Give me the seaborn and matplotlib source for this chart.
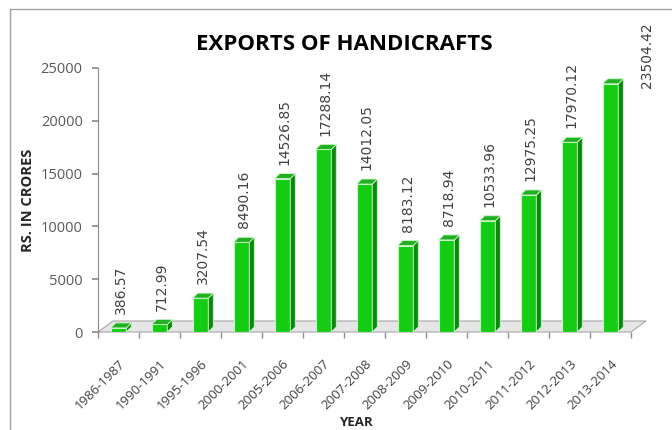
import matplotlib
matplotlib.use('Agg')
import matplotlib.pyplot as plt
from matplotlib.patches import Polygon
from matplotlib.lines import Line2D
import pandas as pd
import seaborn as sns

# data
years = ['1986-1987', '1990-1991', '1995-1996', '2000-2001', '2005-2006',
         '2006-2007', '2007-2008', '2008-2009', '2009-2010', '2010-2011',
         '2011-2012', '2012-2013', '2013-2014']
exports = [386.57, 712.99, 3207.54, 8490.16, 14526.85, 17288.14, 14012.05,
           8183.12, 8718.94, 10533.96, 12975.25, 17970.12, 23504.42]
y_ticks = [0, 5000, 10000, 15000, 20000, 25000]

df = pd.DataFrame({'year': years, 'value': exports})

sns.set_theme(style='white')
plt.rcParams['font.family'] = ['Open Sans', 'DejaVu Sans']

fig = plt.figure(figsize=(6.72, 4.30), dpi=100)
ax = fig.add_axes([98/672, 1 - 332/430, 533/672, 264/430])

sns.barplot(data=df, x='year', y='value', ax=ax, color='#14cc14',
            width=0.38, edgecolor='#c8f5c8', linewidth=0.8, saturation=1, zorder=3)

ax.set_xlim(-0.5, 12.5)
ax.set_ylim(0, 25000)

# pixel -> data scale for the fake 3d depth
fig.canvas.draw()
px_x = 13 / ax.bbox.width
px_y = 25000 / ax.bbox.height

# floor
fdx, fdy = 15 * px_x, 11 * px_y
floor = Polygon([(-0.5, 0), (12.5, 0), (12.5 + fdx, fdy), (-0.5 + fdx, fdy)],
                closed=True, facecolor='#e6e6e6', edgecolor='#a6a6a6',
                linewidth=0.8, clip_on=False, zorder=1)
ax.add_patch(floor)

# bar sides and tops
bdx, bdy = 5 * px_x, 5 * px_y
for p in list(ax.patches):
    if p is floor:
        continue
    x0, w, h = p.get_x(), p.get_width(), p.get_height()
    side = Polygon([(x0 + w, 0), (x0 + w + bdx, bdy), (x0 + w + bdx, h + bdy), (x0 + w, h)],
                   facecolor='#0a8a0a', edgecolor='#c8f5c8', linewidth=0.6, zorder=3)
    top = Polygon([(x0, h), (x0 + w, h), (x0 + w + bdx, h + bdy), (x0 + bdx, h + bdy)],
                  facecolor='#20b020', edgecolor='#c8f5c8', linewidth=0.6, zorder=3,
                  clip_on=False)
    ax.add_patch(side)
    ax.add_patch(top)

# value labels (last one sits beside its bar)
for i, v in enumerate(exports):
    off = (26, -3) if i == len(exports) - 1 else (1.5, 10)
    ax.annotate(f'{v:.2f}', (i, v), xytext=off, textcoords='offset points',
                rotation=90, ha='center', va='bottom', fontsize=10,
                color='#404040', family='DejaVu Sans', annotation_clip=False)

# axes styling
for s in ['top', 'right', 'bottom']:
    ax.spines[s].set_visible(False)
ax.spines['left'].set_color('#8c8c8c')
ax.spines['left'].set_linewidth(0.8)
ax.set_yticks(y_ticks)
ax.set_yticklabels([str(t) for t in y_ticks])
ax.tick_params(axis='y', left=True, length=4, color='#8c8c8c', labelsize=10.5,
               labelcolor='#595959', pad=7)
ax.set_xticks(range(len(years)))
ax.set_xticklabels(years, rotation=45, ha='right', rotation_mode='anchor')
ax.set_xticks([i + 0.5 for i in range(-1, len(years))], minor=True)
ax.tick_params(axis='x', which='major', bottom=False, labelsize=9.5,
               labelcolor='#404040', pad=12)
ax.tick_params(axis='x', which='minor', bottom=True, length=4, color='#8c8c8c')
ax.set_xlabel('')
ax.set_ylabel('')

fig.text(28/672, 1 - 200/430, 'RS. IN CRORES', ha='center', va='center',
         rotation=90, fontsize=10.5, fontweight='bold', color='#262626')
fig.text(344/672, 1 - 44/430, 'EXPORTS OF HANDICRAFTS', ha='center', va='center',
         fontsize=16, fontweight='bold', color='black')
fig.text(356/672, 1 - 422/430, 'YEAR', ha='center', va='center',
         fontsize=9.5, fontweight='bold', color='#262626')

# outer frame (top and left edges visible)
fig.add_artist(Line2D([10/672, 1], [1 - 9/430, 1 - 9/430], color='#a0a0a0', lw=1))
fig.add_artist(Line2D([10/672, 10/672], [0, 1 - 9/430], color='#a0a0a0', lw=1))

fig.savefig('out.png', dpi=100)
